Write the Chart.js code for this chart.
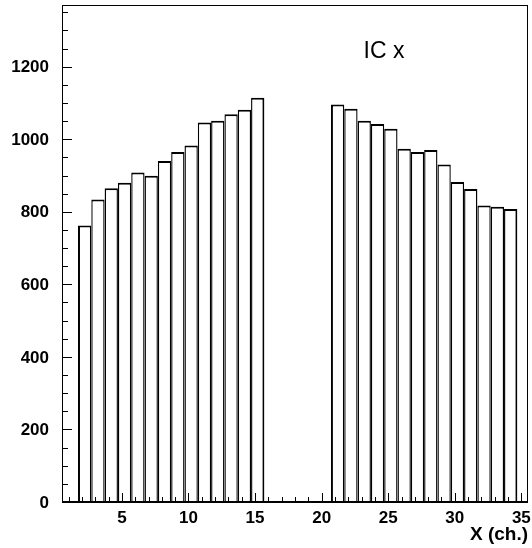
<!DOCTYPE html>
<html>
<head>
<meta charset="utf-8">
<script src="https://cdn.jsdelivr.net/npm/chart.js@4/dist/chart.umd.min.js"></script>
<style>
  html, body { margin: 0; padding: 0; background: #fff; }
  #wrap { width: 532px; height: 548px; position: relative; }
</style>
</head>
<body>
<div id="wrap"><canvas id="c" width="532" height="548"></canvas></div>
<script>
// Ionisation-chamber x profile: counts per channel
const channels = [2, 3, 4, 5, 6, 7, 8, 9, 10, 11, 12, 13, 14, 15,
                  21, 22, 23, 24, 25, 26, 27, 28, 29, 30, 31, 32, 33, 34];
const counts = [762, 834, 865, 880, 908, 899, 940, 965, 983, 1046, 1051, 1069, 1081, 1114,
                1096, 1084, 1051, 1042, 1029, 974, 965, 970, 930, 882, 863, 817, 814, 808];
const xTickLabels = [5, 10, 15, 20, 25, 30, 35];
const yTickLabels = [0, 200, 400, 600, 800, 1000, 1200];
const titleText = 'IC x';
const xAxisTitle = 'X (ch.)';

// each channel bin spans [ch - 0.3, ch + 0.7]
const binShift = 0.2;
const points = channels.map((ch, i) => ({ x: ch + binShift, y: counts[i] }));
const chSet = new Set(channels);

const FONT = '"Liberation Sans", Arial, Helvetica, sans-serif';

// ROOT-style frame with inward tick marks, tick labels and titles
const frameTicks = {
  id: 'frameTicks',
  afterDatasetsDraw(chart) {
    const { ctx, chartArea: a, scales: { x, y } } = chart;
    ctx.save();
    ctx.strokeStyle = '#000';
    ctx.lineWidth = 1;
    ctx.strokeRect(Math.round(a.left) + 0.5, Math.round(a.top) + 0.5,
                   Math.round(a.right - a.left) - 1, Math.round(a.bottom - a.top));
    // y ticks: major every 200, minor every 50
    ctx.beginPath();
    for (let v = 0; v <= y.max; v += 50) {
      const py = Math.round(y.getPixelForValue(v)) + 0.5;
      const len = (v % 200 === 0) ? 10 : 6;
      ctx.moveTo(a.left, py);
      ctx.lineTo(a.left + len, py);
    }
    // x ticks: major every 5, minor every channel
    for (let v = 1; v <= 35; v += 1) {
      const px = Math.round(x.getPixelForValue(v)) + 0.5;
      const len = (v % 5 === 0) ? 9 : 5;
      ctx.moveTo(px, a.bottom);
      ctx.lineTo(px, a.bottom - len);
    }
    ctx.stroke();
    // bottom axis line
    ctx.lineWidth = 2;
    ctx.beginPath();
    ctx.moveTo(a.left, Math.round(a.bottom));
    ctx.lineTo(a.right, Math.round(a.bottom));
    ctx.stroke();

    ctx.fillStyle = '#000';
    ctx.font = 'bold 17px ' + FONT;
    // y tick labels
    ctx.textAlign = 'right';
    ctx.textBaseline = 'middle';
    yTickLabels.forEach(v => ctx.fillText(String(v), 49, y.getPixelForValue(v) + 1));
    // x tick labels
    ctx.textAlign = 'center';
    xTickLabels.forEach(v => ctx.fillText(String(v), x.getPixelForValue(v), 518));
    // x-axis title, right aligned
    ctx.font = 'bold 19px ' + FONT;
    ctx.textAlign = 'right';
    ctx.textBaseline = 'alphabetic';
    ctx.fillText(xAxisTitle, a.right, 540);
    // title inside the frame
    ctx.font = '23px ' + FONT;
    ctx.textAlign = 'center';
    ctx.fillText(titleText, 384, 58);
    ctx.restore();
  }
};

new Chart(document.getElementById('c'), {
  type: 'bar',
  data: {
    datasets: [{
      data: points,
      backgroundColor: '#fff',
      borderColor: '#000',
      borderSkipped: false,
      borderWidth: (ctx) => {
        const ch = channels[ctx.dataIndex];
        return {
          top: 2,
          bottom: 0,
          left: chSet.has(ch - 1) ? 1.4 : 2,
          right: chSet.has(ch + 1) ? 1.4 : 2
        };
      },
      barPercentage: 1,
      categoryPercentage: 1,
      inflateAmount: 0
    }]
  },
  options: {
    responsive: false,
    animation: false,
    events: [],
    layout: { padding: { top: 5, right: 4, left: 0, bottom: 0 } },
    plugins: { legend: { display: false }, tooltip: { enabled: false }, title: { display: false } },
    scales: {
      x: {
        type: 'linear',
        offset: false,
        min: 0.5,
        max: 35.5,
        grid: { display: false, drawTicks: false, offset: false },
        border: { display: false },
        ticks: { display: false },
        afterFit(scale) { scale.height = 46; }
      },
      y: {
        type: 'linear',
        min: 0,
        max: 1370,
        grid: { display: false, drawTicks: false },
        border: { display: false },
        ticks: { display: false },
        afterFit(scale) { scale.width = 62; }
      }
    }
  },
  plugins: [frameTicks]
});
</script>
</body>
</html>
